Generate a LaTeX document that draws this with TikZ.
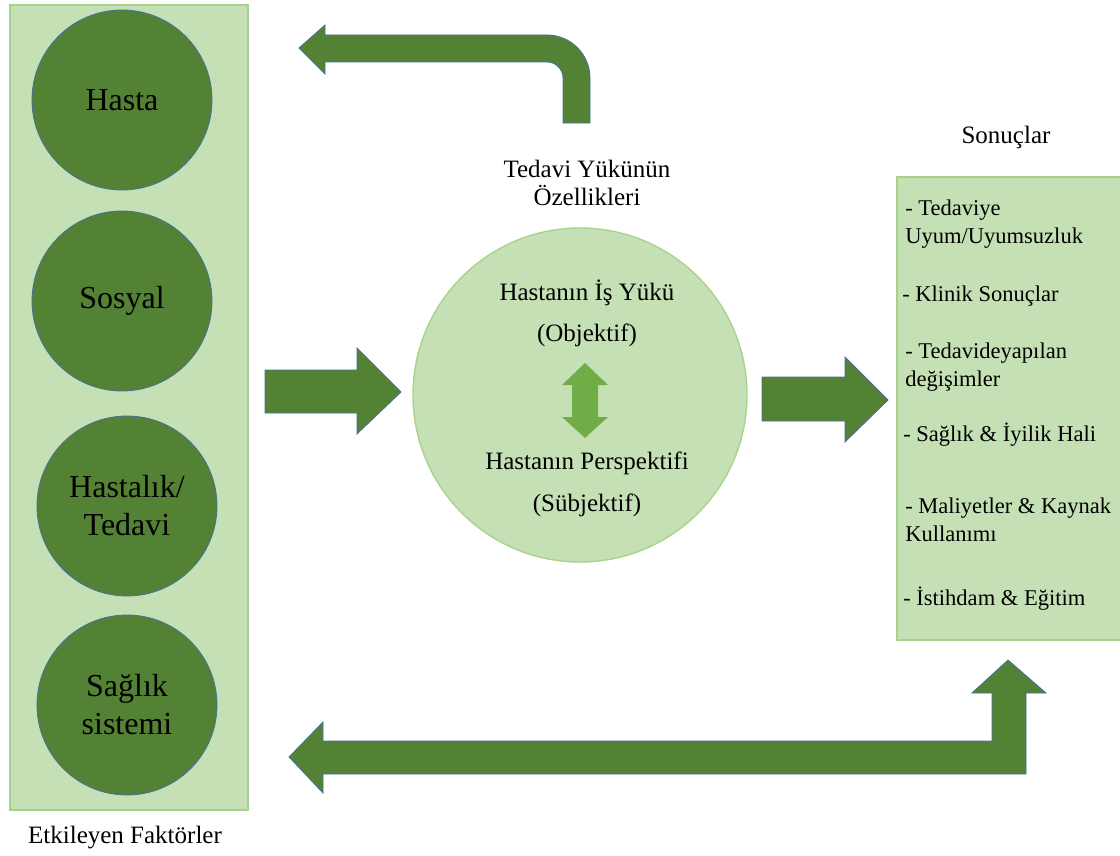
\documentclass[tikz,border=0pt]{standalone}
\usepackage{fontspec}
\setmainfont{Liberation Serif}
\definecolor{dkgreen}{HTML}{548235}
\definecolor{bordblue}{HTML}{41719C}
\definecolor{ltgreen}{HTML}{C5E0B4}
\definecolor{ltborder}{HTML}{A9D18E}
\definecolor{midgreen}{HTML}{70AD47}
\begin{document}
\begin{tikzpicture}[x=0.75pt,y=-0.75pt,
  dk/.style={fill=dkgreen,draw=bordblue,line width=0.6pt},
  lt/.style={fill=ltgreen,draw=ltborder,line width=1pt},
  fcirc/.style={circle,dk,minimum size=135pt,inner sep=0pt,align=center,font=\fontsize{24}{28.5}\selectfont},
  lbl/.style={font=\fontsize{18.75}{20.5}\selectfont,align=center,inner sep=0pt},
  item/.style={anchor=west,font=\fontsize{16.9}{21}\selectfont,align=left,inner sep=0pt}]
\useasboundingbox (0,0) rectangle (1120,856);

% left panel
\node[lt,rectangle,minimum width=178.5pt,minimum height=603.75pt,inner sep=0pt] (panel) at (129,407.5) {};
\node[fcirc] (hasta) at (122,100) {Hasta};
\node[fcirc] (sosyal) at (122,301) {Sosyal};
\node[fcirc] (hastalik) at (127,506) {Hastalık/\\Tedavi};
\node[fcirc] (saglik) at (127,705) {Sağlık\\sistemi};
\node[lbl] (etk) at (125,838) {Etkileyen Faktörler};

% middle circle
\node[lt,circle,minimum size=250.5pt,inner sep=0pt] (mid) at (580,395) {};
\node[lbl] (isyuku) at (587,293) {Hastanın İş Yükü};
\node[lbl] (obj) at (587,335) {(Objektif)};
\node[lbl] (persp) at (587,463) {Hastanın Perspektifi};
\node[lbl] (subj) at (587,505) {(Sübjektif)};
\fill[midgreen] (585,363) -- (608,385) -- (598,385) -- (598,417) -- (608,417) -- (585,438)
  -- (562,417) -- (572,417) -- (572,385) -- (562,385) -- cycle;

\node[lbl] (ozel) at (587,183) {Tedavi Yükünün\\Özellikleri};

% right box
\node[lt,rectangle,minimum width=171pt,minimum height=347.25pt,inner sep=0pt] (sonbox) at (1011,408.5) {};
\node[lbl] (sonuc) at (1006,137) {Sonuçlar};
\node[item] (i1) at (905,224) {- Tedaviye\\Uyum/Uyumsuzluk};
\node[item] (i2) at (902,296) {- Klinik Sonuçlar};
\node[item] (i3) at (905,367) {- Tedavideyapılan\\değişimler};
\node[item] (i4) at (903,435) {- Sağlık \& İyilik Hali};
\node[item] (i5) at (905,520) {- Maliyetler \& Kaynak\\Kullanımı};
\node[item] (i6) at (903,599) {- İstihdam \& Eğitim};

% block arrows
\draw[dk] (265,370) -- (357,370) -- (357,348) -- (401,392) -- (357,434) -- (357,413) -- (265,413) -- cycle;
\draw[dk] (762,377) -- (845,377) -- (845,357) -- (888,400) -- (845,442) -- (845,421) -- (762,421) -- cycle;

% top bent arrow
\draw[dk] (590,123) -- (590,78) .. controls (590,54.3) and (570.7,35) .. (547,35) -- (325,35)
  -- (325,25) -- (299,48) -- (325,74) -- (325,62) -- (547,62)
  .. controls (555.8,62) and (563,69.2) .. (563,78) -- (563,123) -- cycle;

% bottom bent arrow
\draw[dk] (1026,774) -- (1026,693) -- (1046,693) -- (1008,660) -- (972,693) -- (992,693)
  -- (992,741) -- (323,741) -- (323,722) -- (289,757) -- (323,793) -- (323,774) -- cycle;
\end{tikzpicture}
\end{document}
